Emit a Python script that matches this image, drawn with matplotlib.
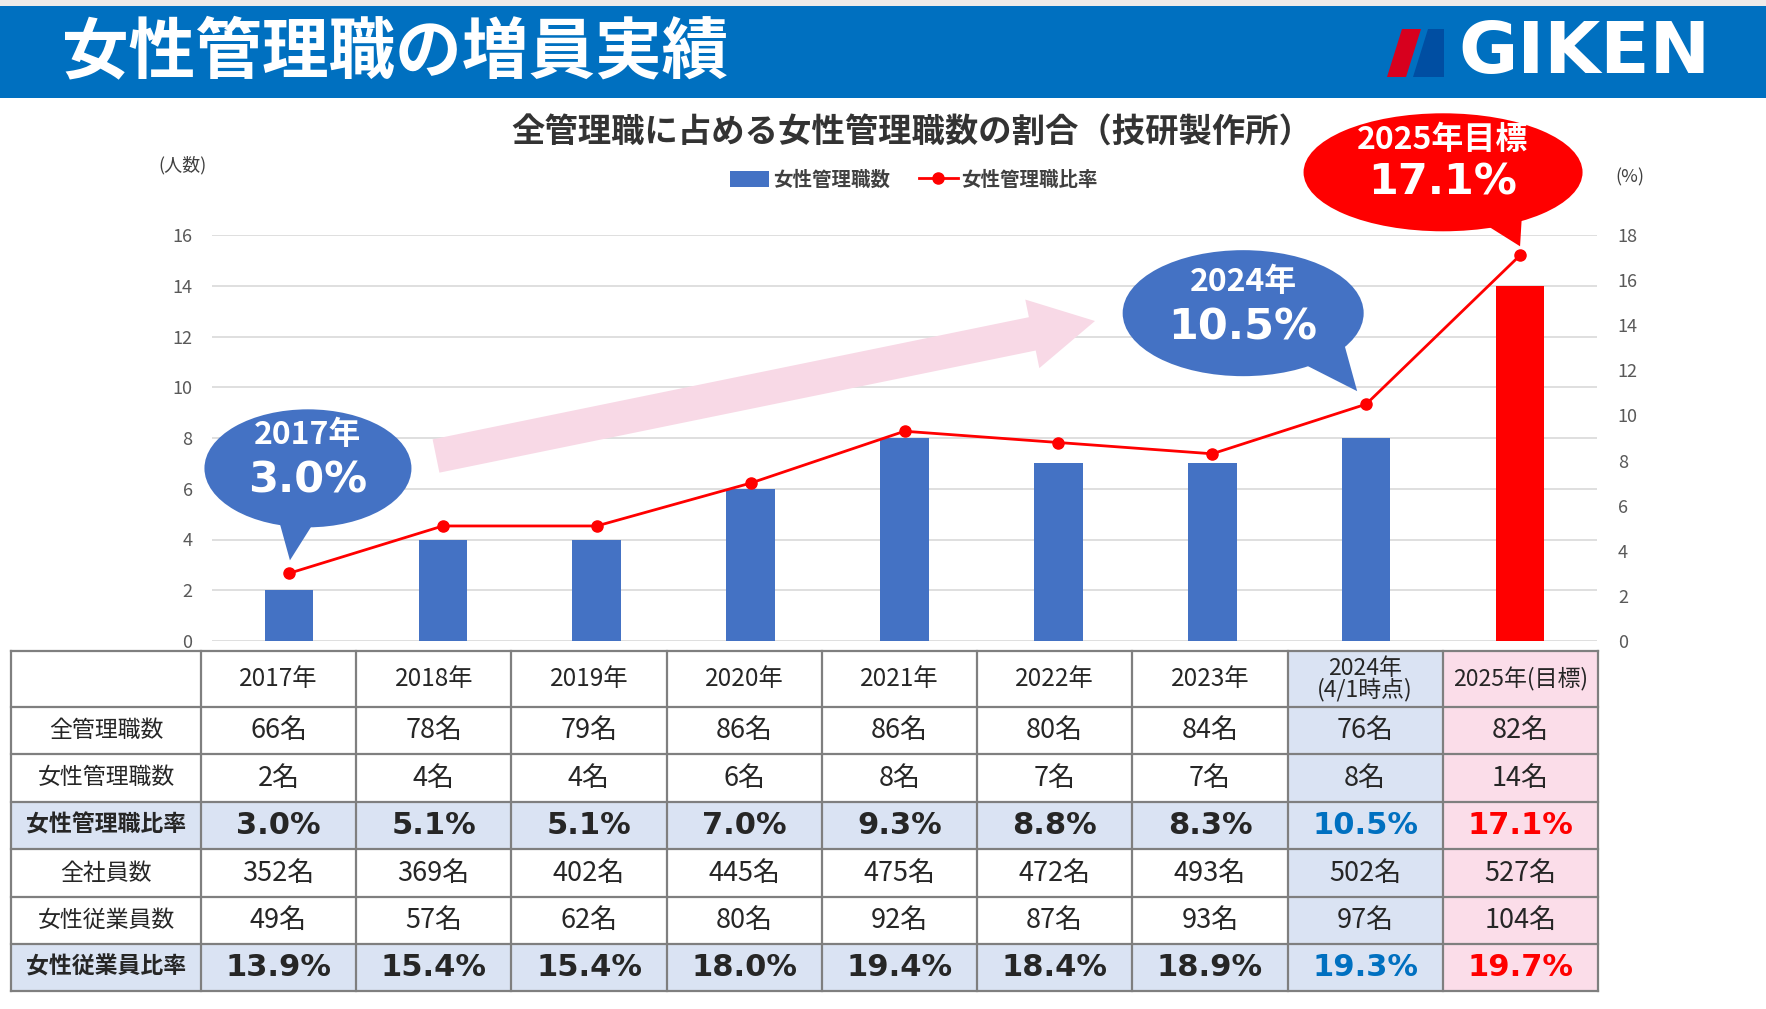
import numpy as np
import matplotlib.pyplot as plt
from matplotlib.patches import Rectangle, Ellipse, Polygon, FancyArrow

plt.rcParams['font.family'] = ['Noto Sans CJK JP', 'DejaVu Sans']

# data
years = ['2017年', '2018年', '2019年', '2020年', '2021年', '2022年', '2023年',
         '2024年\n(4/1時点)', '2025年(目標)']
year_nums = [2017, 2018, 2019, 2020, 2021, 2022, 2023, 2024, 2025]
total_managers = [66, 78, 79, 86, 86, 80, 84, 76, 82]
female_managers = [2, 4, 4, 6, 8, 7, 7, 8, 14]
female_mgr_rate = [3.0, 5.1, 5.1, 7.0, 9.3, 8.8, 8.3, 10.5, 17.1]
total_employees = [352, 369, 402, 445, 475, 472, 493, 502, 527]
female_employees = [49, 57, 62, 80, 92, 87, 93, 97, 104]
female_emp_rate = [13.9, 15.4, 15.4, 18.0, 19.4, 18.4, 18.9, 19.3, 19.7]

BLUE = '#4472c4'
RED = '#ff0000'
DARK = '#262626'
LIGHT_BLUE = '#dae3f3'
PINK = '#fbdde9'

W, H = 1766, 1009
fig = plt.figure(figsize=(W / 100, H / 100), dpi=100)

# chart axes
ax = fig.add_axes([212 / W, 1 - 641 / H, (1597 - 212) / W, (641 - 235) / H], zorder=1)
x = np.arange(len(years))
bar_colors = [BLUE] * (len(years) - 1) + [RED]
bars = ax.bar(x, female_managers, width=0.315, color=bar_colors, zorder=2,
              label='女性管理職数')
ax.set_xlim(-0.5, len(years) - 0.5)
ax.set_ylim(0, 16)
ax.set_yticks(range(0, 17, 2))
ax.set_xticks([])
ax.yaxis.grid(True, color='#d9d9d9', lw=1.2)
ax.set_axisbelow(True)
ax.tick_params(axis='y', length=0, labelsize=13, labelcolor='#595959', pad=14)
for s in ax.spines.values():
    s.set_visible(False)

ax2 = ax.twinx()
line, = ax2.plot(x, female_mgr_rate, color=RED, lw=2, marker='o', ms=8,
                 label='女性管理職比率', zorder=3)
ax2.set_ylim(0, 18)
ax2.set_yticks(range(0, 19, 2))
ax2.tick_params(axis='y', length=0, labelsize=13, labelcolor='#595959', pad=15)
for s in ax2.spines.values():
    s.set_visible(False)

fig.legend([bars[0], line], ['女性管理職数', '女性管理職比率'], loc='center',
           bbox_to_anchor=(914 / W, 1 - 180 / H), ncol=2, frameon=False,
           prop={'size': 14, 'weight': 'bold'}, handlelength=2.0, handleheight=0.9,
           columnspacing=1.5, handletextpad=0.2, labelcolor='#404040')

# overlay in pixel coordinates (y down)
ov = fig.add_axes([0, 0, 1, 1], zorder=3)
ov.set_xlim(0, W)
ov.set_ylim(H, 0)
ov.axis('off')


def to_px(axis, xv, yv):
    return ov.transData.inverted().transform(axis.transData.transform((xv, yv)))


# header
ov.add_patch(Rectangle((0, 0), W, 6, color='#eeebe9', lw=0))
ov.add_patch(Rectangle((0, 6), W, 92, color='#0070c0', lw=0))
ov.text(62, 53, '女性管理職の増員実績', color='white', fontsize=48, fontweight='bold',
        va='center', ha='left')
ov.add_patch(Polygon([(1402, 29), (1421, 29), (1406, 77), (1387, 77)], color='#d7001e', lw=0))
ov.add_patch(Polygon([(1428, 29), (1444, 29), (1444, 77), (1413, 77)], color='#004ea2', lw=0))
ov.text(1458, 54, 'GIKEN', color='white', fontsize=52, fontweight='bold',
        family='DejaVu Sans', va='center', ha='left')

ov.text(912, 133, '全管理職に占める女性管理職数の割合（技研製作所）', fontsize=24,
        fontweight='bold', color='#333333', ha='center', va='center')
ov.text(183, 165, '(人数)', fontsize=13, color='#404040', ha='center', va='center')
ov.text(1630, 177, '(%)', fontsize=13, color='#404040', ha='center', va='center')

# pink arrow
ov.add_patch(FancyArrow(436, 456, 1095 - 436, 321 - 456, width=34, head_width=70,
                        head_length=64, length_includes_head=True, color='#f8d9e6', lw=0))


# callouts
def callout(i, dx, dy, w, h, base, tip, color, top, big, top_dy, big_dy):
    mx, my = to_px(ax2, i, female_mgr_rate[i])
    cx, cy = mx + dx, my + dy
    pts = []
    for b in base:
        yb = cy + h / 2 * np.sqrt(max(1 - (b / (w / 2)) ** 2, 0)) - 8
        pts.append((cx + b, yb))
    pts.append((mx + tip[0], my + tip[1]))
    ov.add_patch(Polygon(pts, color=color, lw=0))
    ov.add_patch(Ellipse((cx, cy), w, h, color=color, lw=0))
    ov.text(cx, cy + top_dy, top, color='white', fontsize=23, fontweight='bold',
            ha='center', va='center')
    ov.text(cx, cy + big_dy, big, color='white', fontsize=31, fontweight='bold',
            family='DejaVu Sans', ha='center', va='center')


callout(0, 19, -105, 207, 118, (-30, 8), (1, -13), BLUE,
        f'{year_nums[0]}年', f'{female_mgr_rate[0]:.1f}%', -33, 12)
callout(7, -123, -91, 241, 126, (55, 100), (-9, -13), BLUE,
        f'{year_nums[7]}年', f'{female_mgr_rate[7]:.1f}%', -31, 14)
callout(8, -77, -83, 279, 118, (37, 79), (0, -9), RED,
        f'{year_nums[8]}年目標', f'{female_mgr_rate[8]:.1f}%', -32, 10)

# table
col_edges = [11] + list(np.linspace(201, 1598, len(years) + 1))
row_edges = [651, 707, 754, 802, 849, 897, 944, 991]
rows = [
    ('全管理職数', total_managers, '{}名', False),
    ('女性管理職数', female_managers, '{}名', False),
    ('女性管理職比率', female_mgr_rate, '{:.1f}%', True),
    ('全社員数', total_employees, '{}名', False),
    ('女性従業員数', female_employees, '{}名', False),
    ('女性従業員比率', female_emp_rate, '{:.1f}%', True),
]


def cell_fill(col, strong):
    if col == 7:
        return LIGHT_BLUE
    if col == 8:
        return PINK
    return LIGHT_BLUE if strong else 'white'


# header row
y0, y1 = row_edges[0], row_edges[1]
for c in range(len(years)):
    xa, xb = col_edges[c + 1], col_edges[c + 2]
    fill = LIGHT_BLUE if c == 7 else PINK if c == 8 else 'white'
    ov.add_patch(Rectangle((xa, y0), xb - xa, y1 - y0, color=fill, lw=0))
    ov.text((xa + xb) / 2, (y0 + y1) / 2, years[c], fontsize=17.5 if c < 7 else 16.5,
            color=DARK, ha='center', va='center', linespacing=0.9)

for r, (label, vals, fmt, strong) in enumerate(rows):
    y0, y1 = row_edges[r + 1], row_edges[r + 2]
    yc = (y0 + y1) / 2
    xa, xb = col_edges[0], col_edges[1]
    ov.add_patch(Rectangle((xa, y0), xb - xa, y1 - y0,
                           color=LIGHT_BLUE if strong else 'white', lw=0))
    ov.text((xa + xb) / 2, yc, label, fontsize=16.5, color=DARK, ha='center', va='center',
            fontweight='bold' if strong else 'normal')
    for c, v in enumerate(vals):
        xa, xb = col_edges[c + 1], col_edges[c + 2]
        ov.add_patch(Rectangle((xa, y0), xb - xa, y1 - y0, color=cell_fill(c, strong), lw=0))
        if strong:
            tc = '#0070c0' if c == 7 else RED if c == 8 else DARK
            ov.text((xa + xb) / 2, yc, fmt.format(v), fontsize=22, fontweight='bold',
                    family='DejaVu Sans', color=tc, ha='center', va='center')
        else:
            ov.text((xa + xb) / 2, yc, fmt.format(v), fontsize=19.5, color=DARK,
                    ha='center', va='center')

for yv in row_edges:
    ov.plot([col_edges[0], col_edges[-1]], [yv, yv], color='#7f7f7f', lw=1.6)
for xv in col_edges:
    ov.plot([xv, xv], [row_edges[0], row_edges[-1]], color='#7f7f7f', lw=1.6)

fig.savefig('out.png', dpi=100)
